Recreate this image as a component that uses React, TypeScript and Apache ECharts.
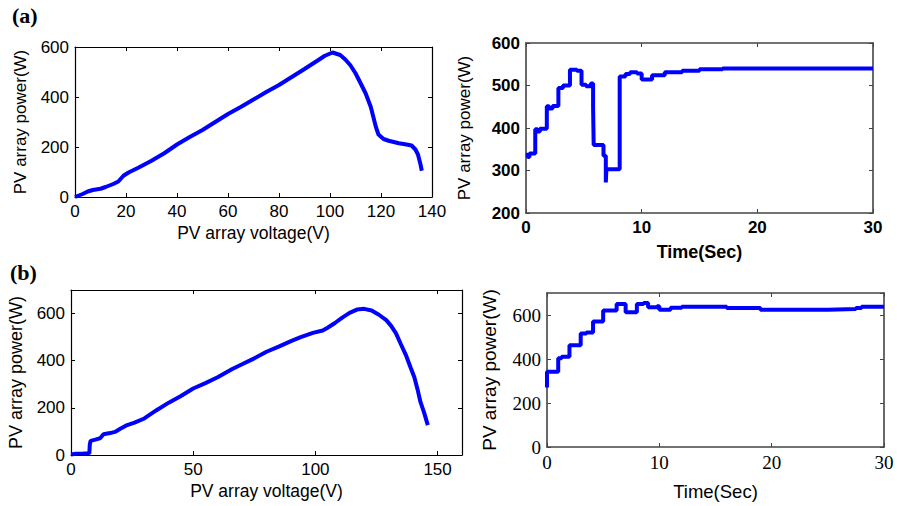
import React, { useEffect, useRef } from "react";
import * as echarts from "echarts";

// Panel (a) left: P-V curve
const pvA: [number, number][] = [
  [0, 0], [1, 4], [3, 12], [5, 22], [7, 28], [10, 33], [12, 40], [15, 52], [17, 62], [19, 85],
  [21, 98], [25, 118], [30, 145], [35, 175], [40, 210], [45, 240], [50, 268], [55, 300],
  [60, 332], [65, 360], [70, 390], [75, 420], [80, 448], [85, 480], [90, 512], [95, 545],
  [98, 565], [101, 578], [104, 568], [106, 550], [108, 527], [110, 495], [112, 455],
  [114, 414], [116, 360], [117, 320], [118, 280], [119, 250], [121, 232], [123, 225],
  [127, 215], [130, 210], [132, 206], [133.5, 190], [134.5, 170], [135.5, 130], [136, 105],
];

// Panel (a) right: power vs time (step)
const ptA: [number, number][] = [
  [0, 337], [0.15, 332], [0.3, 340], [0.8, 397], [1.0, 392], [1.2, 398], [1.8, 451],
  [2.0, 446], [2.3, 452], [2.8, 494], [3.2, 500], [3.8, 537], [4.4, 535], [4.8, 502],
  [5.2, 498], [5.6, 505], [5.8, 450], [5.85, 360], [6.7, 335], [6.9, 272], [6.95, 303],
  [8.1, 521], [8.6, 527], [9.0, 531], [9.6, 528], [10.0, 514], [10.9, 524], [12.0, 531],
  [13.5, 535], [15.0, 538], [17, 540], [30, 540],
];

// Panel (b) left: P-V curve
const pvB: [number, number][] = [
  [0, 2], [2, 5], [5, 6], [7.5, 7], [7.7, 45], [8, 60], [10, 65], [12, 72], [13.3, 88],
  [16, 93], [18, 98], [20, 110], [23, 127], [26, 137], [30, 155], [35, 190], [40, 222],
  [45, 250], [50, 282], [55, 305], [60, 330], [66, 365], [70, 385], [75, 410], [80, 438],
  [85, 460], [90, 483], [94, 500], [99, 518], [103, 528], [105, 540], [108, 560],
  [111, 583], [114, 603], [117, 617], [120, 620], [123, 613], [126, 595], [129, 572],
  [131, 548], [133, 516], [135, 470], [137, 425], [139, 370], [140.5, 330], [142, 270],
  [143, 225], [144.5, 180], [146, 127],
];

// Panel (b) right: power vs time (step)
const ptB: [number, number][] = [
  [0, 270], [0, 342], [1.0, 403], [1.3, 410], [2.0, 462], [3.0, 516], [3.5, 520],
  [4.1, 570], [5.0, 620], [6.2, 650], [7.0, 613], [8.0, 650], [8.6, 655], [9.0, 635],
  [9.8, 640], [10.0, 624], [11.0, 633], [12, 637], [16, 632], [19, 624], [25, 627],
  [27.5, 632], [28, 638], [30, 638],
];

const xTitleV = "PV array voltage(V)";
const xTitleT = "Time(Sec)";
const yTitle = "PV array power(W)";

const BLUE = "#0000ff";

type AxisSpec = {
  min: number; max: number; interval: number; hideMax?: boolean;
};

function makeAxes(
  grid: number, xs: AxisSpec, ys: AxisSpec, opts: {
    lineColor: string; lineWidth: number; font: string; size: number; weight: string;
    xName: string; yName: string; xGap: number; yGap: number; nameSize: number; nameWeight: string;
    nameFont: string; yNameSize: number;
  }
) {
  const common = {
    gridIndex: grid, type: "value" as const,
    splitLine: { show: false },
    axisLine: { show: true, onZero: false, lineStyle: { color: opts.lineColor, width: opts.lineWidth } },
    axisTick: { show: true, inside: true, length: 4, lineStyle: { color: opts.lineColor, width: 1 } },
  };
  const label = {
    color: "#000", fontFamily: opts.font, fontSize: opts.size, fontWeight: opts.weight, margin: 6,
  };
  const xAxes = [
    {
      ...common, position: "bottom", min: xs.min, max: xs.max, interval: xs.interval,
      axisLabel: { ...label, showMaxLabel: !xs.hideMax, showMinLabel: true },
      name: opts.xName, nameLocation: "middle", nameGap: opts.xGap,
      nameTextStyle: { color: "#000", fontFamily: opts.nameFont, fontSize: opts.nameSize, fontWeight: opts.nameWeight },
    },
    {
      ...common, position: "top", min: xs.min, max: xs.max, interval: xs.interval,
      axisLabel: { show: false },
    },
  ];
  const yAxes = [
    {
      ...common, position: "left", min: ys.min, max: ys.max, interval: ys.interval,
      axisLabel: { ...label, showMaxLabel: !ys.hideMax, showMinLabel: true },
      name: opts.yName, nameLocation: "middle", nameGap: opts.yGap, nameRotate: 90,
      nameTextStyle: { color: "#000", fontFamily: "Liberation Sans", fontSize: opts.yNameSize, fontWeight: "normal" },
    },
    {
      ...common, position: "right", min: ys.min, max: ys.max, interval: ys.interval,
      axisLabel: { show: false },
    },
  ];
  return { xAxes, yAxes };
}

export default function App() {
  const ref = useRef<HTMLDivElement>(null);
  useEffect(() => {
    if (!ref.current) return;
    const chart = echarts.init(ref.current, undefined, { renderer: "svg" });
    const leftOpts = {
      lineColor: "#000", lineWidth: 1.2, font: "Liberation Sans", size: 17, weight: "normal",
      nameFont: "Liberation Sans", nameSize: 17.5, nameWeight: "normal", yNameSize: 17,
    };
    const rightOpts = {
      lineColor: "#444", lineWidth: 1.6, font: "Liberation Sans", size: 17, weight: "bold",
      nameFont: "Liberation Sans", nameSize: 18, nameWeight: "bold", yNameSize: 17,
    };
    const a1 = makeAxes(0, { min: 0, max: 140, interval: 20 }, { min: 0, max: 600, interval: 200 },
      { ...leftOpts, xName: xTitleV, yName: yTitle, xGap: 27, yGap: 46 });
    const a2 = makeAxes(1, { min: 0, max: 30, interval: 10 }, { min: 200, max: 600, interval: 100 },
      { ...rightOpts, xName: xTitleT, yName: yTitle, xGap: 30, yGap: 53 });
    const a3 = makeAxes(2, { min: 0, max: 160, interval: 50, hideMax: true }, { min: 0, max: 700, interval: 200, hideMax: true },
      { ...leftOpts, yNameSize: 18, xName: xTitleV, yName: yTitle, xGap: 27, yGap: 46 });
    const a4 = makeAxes(3, { min: 0, max: 30, interval: 10 }, { min: 0, max: 700, interval: 200, hideMax: true },
      { ...rightOpts, font: "Liberation Sans Narrow", weight: "normal", size: 19, nameWeight: "normal",
        nameSize: 18.5, yNameSize: 19, xName: xTitleT, yName: yTitle, xGap: 35, yGap: 48 });

    const gridBase = { containLabel: false, outerBoundsMode: "none", show: false };
    chart.setOption({
      animation: false,
      backgroundColor: "#fff",
      grid: [
        { ...gridBase, left: 75, top: 47, width: 357, height: 150 },
        { ...gridBase, left: 526, top: 43, width: 347, height: 170 },
        { ...gridBase, left: 71, top: 290, width: 391, height: 165 },
        { ...gridBase, left: 547, top: 293, width: 337, height: 154 },
      ],
      xAxis: [...a1.xAxes, ...a2.xAxes, ...a3.xAxes, ...a4.xAxes],
      yAxis: [...a1.yAxes, ...a2.yAxes, ...a3.yAxes, ...a4.yAxes],
      series: [
        { type: "line", xAxisIndex: 0, yAxisIndex: 0, data: pvA, showSymbol: false, smooth: false,
          lineStyle: { color: BLUE, width: 4 } },
        { type: "line", xAxisIndex: 2, yAxisIndex: 2, data: ptA, showSymbol: false, step: "end",
          lineStyle: { color: BLUE, width: 4 } },
        { type: "line", xAxisIndex: 4, yAxisIndex: 4, data: pvB, showSymbol: false,
          lineStyle: { color: BLUE, width: 4 } },
        { type: "line", xAxisIndex: 6, yAxisIndex: 6, data: ptB, showSymbol: false, step: "end",
          lineStyle: { color: BLUE, width: 4 } },
      ],
      graphic: [
        { type: "text", left: 12, top: 4, style: { text: "(a)", font: 'bold 22px "Liberation Serif"', fill: "#000" } },
        { type: "text", left: 10, top: 261, style: { text: "(b)", font: 'bold 22px "Liberation Serif"', fill: "#000" } },
      ],
    });
    return () => chart.dispose();
  }, []);
  return (
    <div
      ref={ref}
      style={{ position: "fixed", left: 0, top: 0, width: 897, height: 506, background: "#fff" }}
    />
  );
}
